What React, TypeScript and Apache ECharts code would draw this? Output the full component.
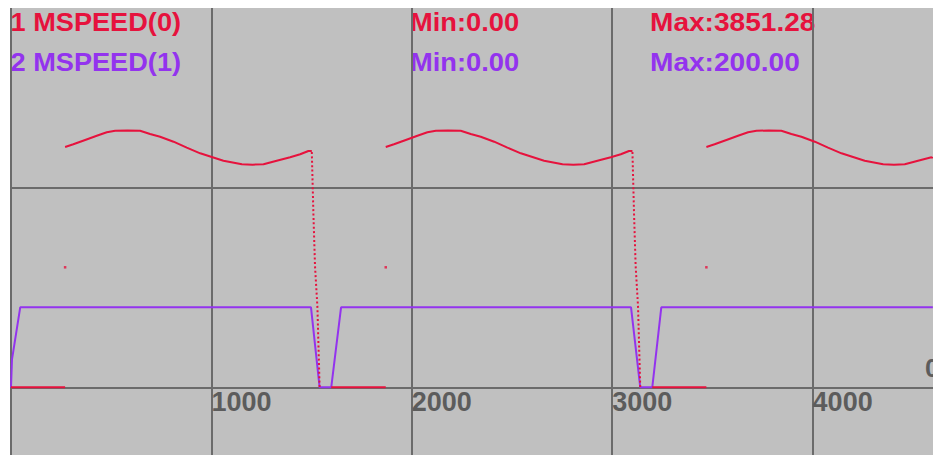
import React, { useEffect, useRef } from 'react';
import * as echarts from 'echarts';

const RED = '#E6123D';
const PURPLE = '#9333EE';
const GRID_COLOR = '#6b6b6b';
const LABEL_COLOR = '#5c5c5c';

// Legend / stats texts
const channelNames = ['1 MSPEED(0)', '2 MSPEED(1)'];
const channelMins = ['Min:0.00', 'Min:0.00'];
const channelMaxs = ['Max:3851.28', 'Max:200.00'];
const channelColors = [RED, PURPLE];
const edgeLabel = '0';

// X range visible on screen
const X_VISIBLE_MAX = 4600;

// Channel 1 (red) – readings of one running cycle, as offsets from the cycle start
const redCycleStarts = [270, 1870, 3470];
const redIdleStarts = [0, 1598, 3200];
const redShapeOffsets = [0, 41, 100, 158, 208, 250, 311, 374, 424, 474, 541, 607, 674, 732, 790, 882, 936, 990, 1056, 1123, 1173, 1214, 1231];
const redShapeValues = [3605, 3645, 3710, 3774, 3825, 3849, 3851, 3849, 3800, 3759, 3684, 3594, 3510, 3455, 3399, 3345, 3340, 3345, 3399, 3450, 3495, 3545, 3545];
const redDropOffsets = [1231, 1239, 1247, 1259, 1270];
const redDropValues = [3530, 2600, 1820, 1205, 0];
const redStepValue = 1800;
const redEndTime = 4600;
const redEndValue = 3440;

// Channel 2 (purple)
const purpleTimes = [0, 5, 46, 1497, 1540, 1598, 1647, 3094, 3140, 3200, 3245, 4600];
const purpleValues = [0, 70, 200, 200, 0, 0, 200, 200, 0, 0, 200, 200];

function buildRedLine() {
  const out: any[] = [];
  redCycleStarts.forEach((start, i) => {
    out.push([redIdleStarts[i], 0]);
    out.push([start, 0]);
    out.push([start, '-']);
    let clipped = false;
    redShapeOffsets.forEach((o, j) => {
      const t = start + o;
      if (t <= redEndTime) out.push([t, redShapeValues[j]]);
      else clipped = true;
    });
    if (clipped) out.push([redEndTime, redEndValue]);
    out.push([start + 1, '-']);
  });
  return out;
}

function buildRedDrop() {
  const out: any[] = [];
  redCycleStarts.forEach((start) => {
    const pts = redDropOffsets.map((o, j) => [start + o, redDropValues[j]]);
    if (pts[pts.length - 1][0] <= redEndTime) {
      pts.forEach((p) => out.push(p));
      out.push([start + 1300, '-']);
    }
  });
  return out;
}

export default function App() {
  const ref = useRef<HTMLDivElement>(null);
  useEffect(() => {
    if (!ref.current) return;
    const chart = echarts.init(ref.current, undefined, { renderer: 'svg' });
    const textFont = { fontFamily: 'Liberation Sans', fontWeight: 'bold', fontSize: 26 };
    const graphic: any[] = [];
    channelNames.forEach((name, i) => {
      graphic.push({ type: 'text', x: 0.5, y: 1 + i * 40, scaleX: 1.045, style: { text: name, fill: channelColors[i], ...textFont, verticalAlign: 'top' } });
      graphic.push({ type: 'text', x: 400, y: 1 + i * 40, scaleX: 1.05, style: { text: channelMins[i], fill: channelColors[i], ...textFont, verticalAlign: 'top' } });
      graphic.push({ type: 'text', x: 640, y: 1 + i * 40, scaleX: 1.08, style: { text: channelMaxs[i], fill: channelColors[i], ...textFont, verticalAlign: 'top' } });
    });
    graphic.push({ type: 'text', x: 915, y: 347, style: { text: edgeLabel, fill: LABEL_COLOR, ...textFont, verticalAlign: 'top' } });

    chart.setOption({
      animation: false,
      backgroundColor: '#C0C0C0',
      grid: { left: 1, top: -20.7, width: 1002, height: 600, show: false, containLabel: false, outerBoundsMode: 'none' },
      xAxis: {
        type: 'value',
        min: 0,
        max: 5000,
        interval: 1000,
        position: 'bottom',
        offset: -200,
        axisLine: { show: false, onZero: false },
        axisTick: { show: false },
        axisLabel: {
          align: 'left',
          margin: 1,
          color: LABEL_COLOR,
          fontFamily: 'Liberation Sans',
          fontWeight: 'bold',
          fontSize: 27,
          formatter: (v: number) => (v === 0 || v > X_VISIBLE_MAX ? '' : String(v)),
        },
        splitLine: { show: true, lineStyle: { color: GRID_COLOR, width: 2 } },
      },
      yAxis: [
        {
          type: 'value',
          min: -3000,
          max: 6000,
          interval: 3000,
          axisLine: { show: false },
          axisTick: { show: false },
          axisLabel: { show: false },
          splitLine: { show: true, lineStyle: { color: GRID_COLOR, width: 2 } },
        },
        {
          type: 'value',
          min: -500,
          max: 1000,
          interval: 500,
          show: false,
          splitLine: { show: false },
        },
      ],
      graphic,
      series: [
        {
          name: 'MSPEED(1)',
          type: 'line',
          yAxisIndex: 1,
          data: purpleTimes.map((t, i) => [t, purpleValues[i]]),
          showSymbol: false,
          lineStyle: { color: PURPLE, width: 2 },
          itemStyle: { color: PURPLE },
          z: 2,
        },
        {
          name: 'MSPEED(0)',
          type: 'line',
          yAxisIndex: 0,
          data: buildRedLine(),
          showSymbol: false,
          connectNulls: false,
          lineStyle: { color: RED, width: 2 },
          itemStyle: { color: RED },
          z: 3,
        },
        {
          name: 'MSPEED(0) drop',
          type: 'line',
          yAxisIndex: 0,
          data: buildRedDrop(),
          showSymbol: false,
          connectNulls: false,
          lineStyle: { color: RED, width: 2, type: [2, 2.4], cap: 'butt' },
          itemStyle: { color: RED },
          z: 4,
        },
        {
          name: 'MSPEED(0) step',
          type: 'scatter',
          yAxisIndex: 0,
          data: redCycleStarts.map((t) => [t, redStepValue]),
          symbol: 'rect',
          symbolSize: 2.5,
          itemStyle: { color: RED },
          z: 4,
        },
      ],
    });
    return () => chart.dispose();
  }, []);
  return (
    <div
      ref={ref}
      style={{ position: 'absolute', left: 10, top: 8, width: 923, height: 447 }}
    />
  );
}
